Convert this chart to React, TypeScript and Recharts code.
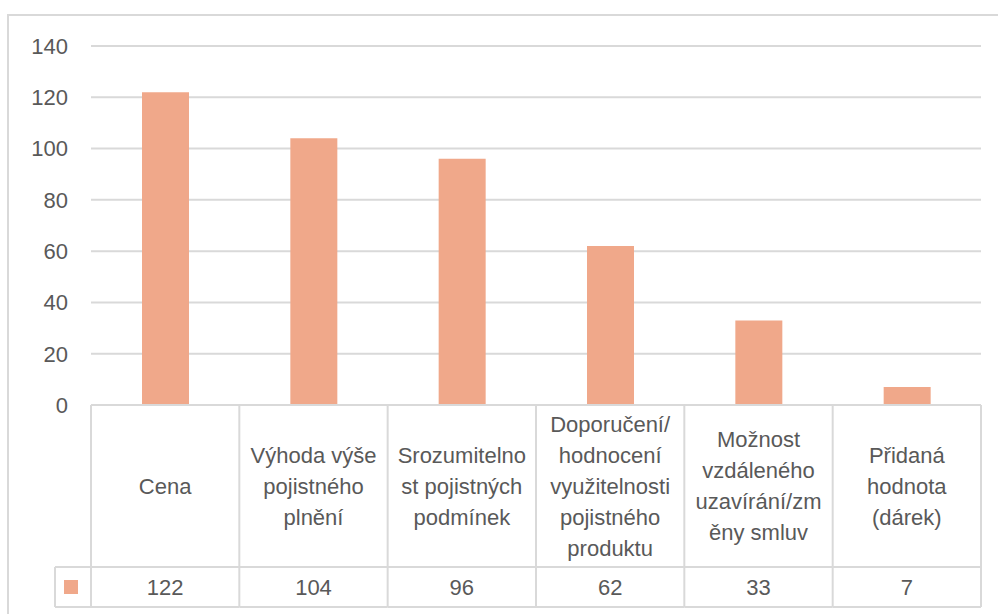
import React from "react";
import { BarChart, Bar, XAxis, YAxis, CartesianGrid } from "recharts";

const categories = [
  "Cena",
  "Výhoda výše pojistného plnění",
  "Srozumitelnost pojistných podmínek",
  "Doporučení/hodnocení využitelnosti pojistného produktu",
  "Možnost vzdáleného uzavírání/změny smluv",
  "Přidaná hodnota (dárek)",
];
const categoryLabelLines = [
  ["Cena"],
  ["Výhoda výše", "pojistného", "plnění"],
  ["Srozumitelno", "st pojistných", "podmínek"],
  ["Doporučení/", "hodnocení", "využitelnosti", "pojistného", "produktu"],
  ["Možnost", "vzdáleného", "uzavírání/zm", "ěny smluv"],
  ["Přidaná", "hodnota", "(dárek)"],
];
const values = [122, 104, 96, 62, 33, 7];
const yTicks = [0, 20, 40, 60, 80, 100, 120, 140];

const data = categories.map((name, i) => ({ name, value: values[i] }));

const W = 998;
const H = 614;
const MARGIN = { top: 46, right: 17, left: 0, bottom: 0 };
const Y_AXIS_W = 91;
const X_AXIS_H = 209;
const CELL_W = (W - MARGIN.left - MARGIN.right - Y_AXIS_W) / categories.length;
const ROW1 = 162;
const ROW2 = 40;
const LINE_H = 31;
const FONT = "'Liberation Sans', Arial, sans-serif";
const FS = 22;
const TEXT = "#595959";
const GRID = "#D9D9D9";
const BAR = "#F0A88A";

const CategoryTick = (props: any) => {
  const { x, y, payload } = props;
  const i = props.index ?? payload.index ?? 0;
  const left = x - CELL_W / 2;
  const right = x + CELL_W / 2;
  const lines = categoryLabelLines[i] || [String(payload.value)];
  const mid = y + ROW1 / 2;
  const n = lines.length;
  const stroke = { stroke: GRID, strokeWidth: 2 };
  const legendLeft = left - 36;
  return (
    <g>
      <line x1={left} x2={right} y1={y} y2={y} {...stroke} />
      <line x1={right} x2={right} y1={y} y2={y + ROW1 + ROW2} {...stroke} />
      <line x1={left} x2={right} y1={y + ROW1} y2={y + ROW1} {...stroke} />
      <line x1={left} x2={right} y1={y + ROW1 + ROW2} y2={y + ROW1 + ROW2} {...stroke} />
      {i === 0 && (
        <g>
          <line x1={left} x2={left} y1={y} y2={y + ROW1 + ROW2} {...stroke} />
          <line x1={legendLeft} x2={left} y1={y + ROW1} y2={y + ROW1} {...stroke} />
          <line x1={legendLeft} x2={left} y1={y + ROW1 + ROW2} y2={y + ROW1 + ROW2} {...stroke} />
          <line x1={legendLeft} x2={legendLeft} y1={y + ROW1} y2={y + ROW1 + ROW2} {...stroke} />
          <rect x={legendLeft + 9} y={y + ROW1 + 13} width={14} height={14} fill={BAR} />
        </g>
      )}
      {lines.map((t: string, k: number) => (
        <text
          key={k}
          x={x}
          y={mid + (k - (n - 1) / 2) * LINE_H + 7.5}
          textAnchor="middle"
          fill={TEXT}
          fontSize={FS}
          fontFamily={FONT}
        >
          {t}
        </text>
      ))}
      <text
        x={x}
        y={y + ROW1 + ROW2 / 2 + 7.5}
        textAnchor="middle"
        fill={TEXT}
        fontSize={FS}
        fontFamily={FONT}
      >
        {values[i]}
      </text>
    </g>
  );
};

export default function App() {
  return (
    <div
      style={{
        position: "absolute",
        left: 0,
        top: 0,
        width: W,
        height: H,
        overflow: "hidden",
        background: "#fff",
      }}
    >
      <div
        style={{
          position: "absolute",
          left: 7,
          top: 14,
          width: 1100,
          height: 800,
          border: `2px solid ${GRID}`,
        }}
      />
      <div style={{ position: "absolute", left: 0, top: 0 }}>
        <BarChart width={W} height={H} data={data} margin={MARGIN} barCategoryGap={0}>
          <CartesianGrid vertical={false} stroke={GRID} strokeWidth={2} />
          <XAxis
            dataKey="name"
            height={X_AXIS_H}
            axisLine={false}
            tickLine={false}
            tickSize={0}
            tickMargin={0}
            interval={0}
            tick={<CategoryTick />}
          />
          <YAxis
            width={Y_AXIS_W}
            domain={[0, 140]}
            ticks={yTicks}
            axisLine={false}
            tickLine={false}
            tickSize={6}
            tickMargin={17}
            tick={{ fill: TEXT, fontSize: FS, fontFamily: FONT }}
          />
          <Bar dataKey="value" fill={BAR} barSize={47} isAnimationActive={false} />
        </BarChart>
      </div>
    </div>
  );
}
